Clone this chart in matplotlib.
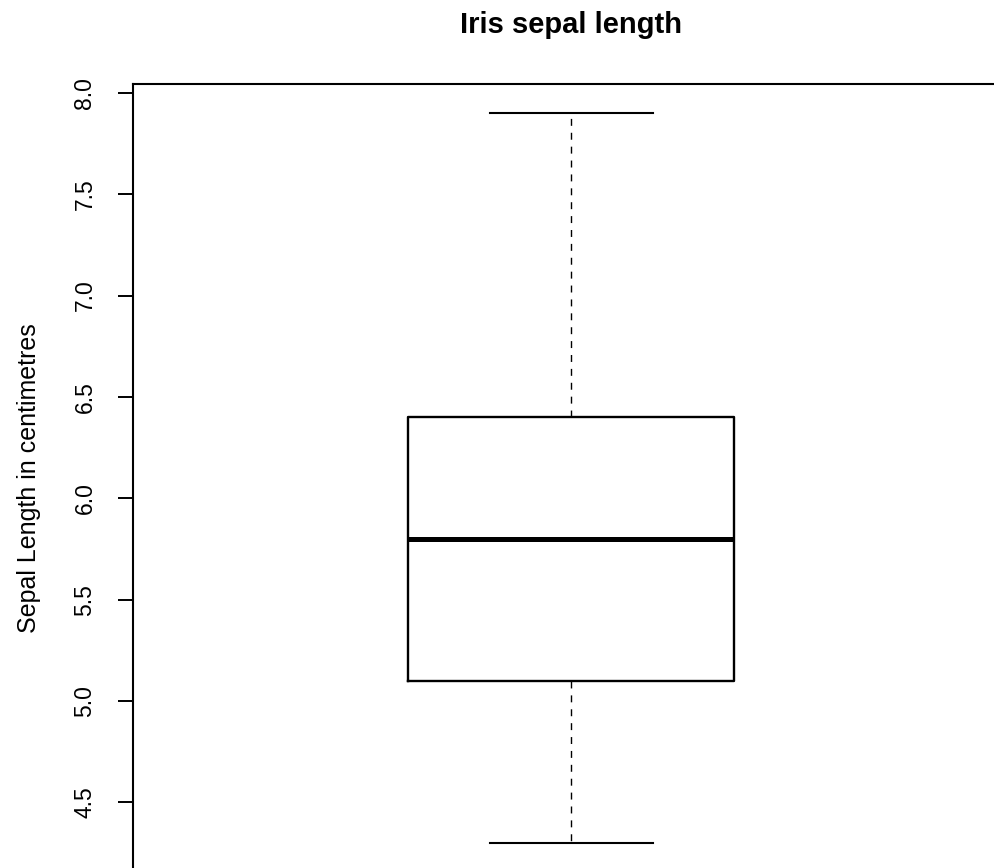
import matplotlib
matplotlib.use("Agg")
import matplotlib.pyplot as plt

# Five-number summary of iris sepal length (cm)
stat_names = ["whislo", "q1", "med", "q3", "whishi"]
sepal_stats = [4.3, 5.1, 5.8, 6.4, 7.9]
y_ticks = [4.5, 5.0, 5.5, 6.0, 6.5, 7.0, 7.5, 8.0]
y_tick_labels = ["4.5", "5.0", "5.5", "6.0", "6.5", "7.0", "7.5", "8.0"]

plt.rcParams["font.family"] = ["Liberation Sans", "DejaVu Sans"]

W, H = 994, 868
fig = plt.figure(figsize=(W / 100, H / 100), dpi=100)
ax = fig.add_axes([132.5 / W, (H - 872) / H, 877.5 / W, 788 / H])

stats = dict(zip(stat_names, sepal_stats))
stats["fliers"] = []
ax.bxp([stats], positions=[1], widths=0.3715, capwidths=0.186,
       showfliers=False, patch_artist=False,
       boxprops=dict(color="black", linewidth=1.7),
       medianprops=dict(color="black", linewidth=3.6, solid_capstyle="butt"),
       whiskerprops=dict(color="black", linewidth=1.0, linestyle=(0, (5, 5))),
       capprops=dict(color="black", linewidth=1.5))

lo, hi = min(sepal_stats), max(sepal_stats)
ext = (hi - lo) * 0.04
ax.set_ylim(lo - ext, hi + ext)
ax.set_xlim(0.5, 1.5)
ax.set_xticks([])
ax.set_yticks(y_ticks)
ax.set_yticklabels(y_tick_labels, rotation=90, va="center")
ax.tick_params(axis="y", length=11, width=1.4, pad=15, labelsize=16.5)

for side in ["left", "top", "right", "bottom"]:
    ax.spines[side].set_linewidth(1.5)

ax.set_ylabel("Sepal Length in centimetres", fontsize=18)
ax.yaxis.set_label_coords(-0.1048, 0.5)
ax.set_title("Iris sepal length", fontsize=21, fontweight="bold", pad=37)

fig.savefig("out.png", dpi=100)
